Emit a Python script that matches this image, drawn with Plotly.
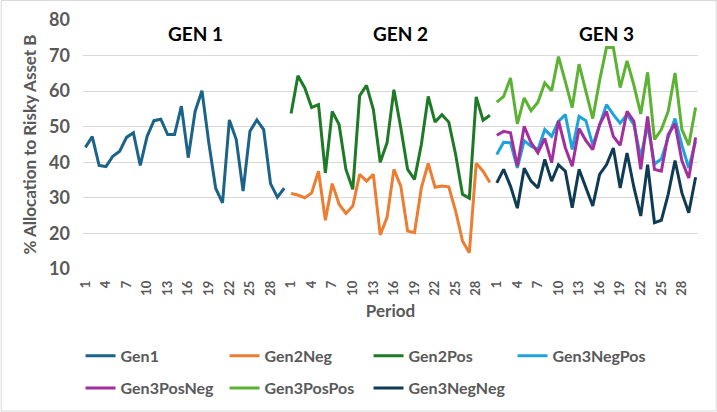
import plotly.graph_objects as go

periods = list(range(1, 31))
tick_periods = [1, 4, 7, 10, 13, 16, 19, 22, 25, 28]
generations = ["GEN 1", "GEN 2", "GEN 3"]

gen1 = [44.2, 47.2, 39.1, 38.8, 41.7, 43.1, 47.0, 48.3, 39.1, 47.3,
        51.7, 52.1, 47.8, 47.8, 55.8, 41.3, 54.3, 60.1, 45.5, 32.7,
        28.6, 51.9, 46.4, 31.9, 48.7, 51.9, 49.2, 34.0, 30.2, 32.7]

gen2neg = [31.2, 30.8, 30.0, 31.4, 37.5, 23.7, 34.0, 28.2, 25.6, 27.7,
           36.6, 34.7, 36.6, 19.6, 24.5, 38.0, 33.3, 20.7, 20.2, 32.8,
           39.7, 33.0, 33.3, 33.1, 26.3, 17.9, 14.6, 39.7, 37.5, 34.3]

gen2pos = [53.7, 64.3, 60.9, 55.4, 56.2, 37.0, 54.3, 50.6, 38.0, 32.4,
           58.7, 61.6, 54.8, 40.0, 45.5, 60.4, 49.7, 38.0, 35.2, 45.0,
           58.5, 51.3, 53.4, 51.3, 42.2, 31.0, 29.9, 58.4, 51.8, 53.2]

gen3negpos = [42.2, 45.6, 45.5, 38.4, 46.1, 44.5, 43.6, 49.2, 47.3, 51.5,
              53.4, 43.6, 52.9, 51.7, 44.8, 50.6, 56.2, 53.4, 51.0, 53.4,
              50.6, 41.3, 50.6, 39.5, 40.9, 47.0, 52.3, 44.8, 38.4, 45.9]

gen3posneg = [47.6, 48.7, 48.3, 38.9, 50.1, 45.5, 42.7, 46.7, 39.9, 51.7,
              44.1, 38.9, 49.5, 46.1, 43.6, 50.6, 54.3, 47.3, 44.8, 54.3,
              51.5, 38.0, 52.9, 38.0, 37.5, 47.8, 50.8, 40.4, 35.6, 47.0]

gen3pospos = [56.9, 58.5, 63.7, 50.8, 58.1, 54.5, 56.9, 62.3, 60.1, 69.7,
              62.7, 55.4, 67.6, 60.1, 52.3, 63.0, 72.3, 72.3, 61.0, 68.5,
              61.7, 53.6, 65.3, 46.4, 49.2, 54.3, 65.1, 49.2, 44.8, 55.4]

gen3negneg = [34.2, 38.0, 33.3, 27.1, 38.3, 34.7, 32.8, 40.8, 34.7, 39.3,
              37.5, 27.2, 38.0, 32.8, 27.7, 36.6, 39.3, 44.0, 32.8, 42.6,
              33.0, 24.9, 39.3, 23.0, 23.7, 31.0, 40.5, 31.4, 25.8, 35.8]

series = [
    ("Gen1", gen1, 0, "#1B6487", "legend"),
    ("Gen2Neg", gen2neg, 1, "#ED7D31", "legend"),
    ("Gen2Pos", gen2pos, 1, "#1F7A28", "legend"),
    ("Gen3NegPos", gen3negpos, 2, "#1CA3DE", "legend"),
    ("Gen3PosNeg", gen3posneg, 2, "#A32E9E", "legend2"),
    ("Gen3PosPos", gen3pospos, 2, "#5CB233", "legend2"),
    ("Gen3NegNeg", gen3negneg, 2, "#0F3C54", "legend2"),
]

n = len(periods)
fig = go.Figure()
for name, vals, g, color, leg in series:
    xs = [g * n + (p - 1) for p in periods]
    fig.add_trace(go.Scatter(x=xs, y=vals, mode="lines", name=name,
                             legend=leg, line=dict(color=color, width=3)))

tickvals = [g * n + (p - 1) for g in range(len(generations)) for p in tick_periods]
ticktext = [str(p) for g in range(len(generations)) for p in tick_periods]

gray = "#595959"
leg_common = dict(orientation="h", xanchor="left", yanchor="middle",
                  entrywidth=99, entrywidthmode="pixels",
                  font=dict(size=16, color=gray, weight="bold"),
                  traceorder="normal", itemwidth=30,
                  bgcolor="rgba(0,0,0,0)")

fig.update_layout(
    width=717, height=412,
    margin=dict(l=83, r=19, t=20, b=143, autoexpand=False),
    paper_bgcolor="white", plot_bgcolor="white",
    font=dict(family="Lato", color=gray),
    showlegend=True,
    legend=dict(x=-0.004, y=-0.349, **leg_common),
    legend2=dict(x=-0.004, y=-0.478, **leg_common),
    xaxis=dict(range=[-0.35, 89.35], tickmode="array", tickvals=tickvals,
               ticktext=ticktext, tickangle=-90, showgrid=False, zeroline=False,
               showline=False, ticks="", ticklabelstandoff=8,
               tickfont=dict(size=13, color=gray, weight="bold"),
               title=dict(text="Period", font=dict(size=17, color=gray, weight="bold"),
                          standoff=10)),
    yaxis=dict(range=[10, 80], dtick=10, showgrid=True, gridcolor="#D9D9D9",
               gridwidth=1, zeroline=False, showline=False, ticks="",
               ticklabelstandoff=12,
               tickfont=dict(size=18, color=gray, weight="bold"),
               title=dict(text="% Allocation to Risky Asset B",
                          font=dict(size=17, color=gray, weight="bold"), standoff=8)),
)

ann_x = [16, 46, 76]
for g, label in enumerate(generations):
    fig.add_annotation(x=ann_x[g], y=76.3, xref="x", yref="y", text=label,
                       showarrow=False,
                       font=dict(size=19, color="black", weight="bold"))

fig.add_shape(type="rect", xref="paper", yref="paper",
              x0=-0.133, x1=1.0297, y0=-0.5703, y1=1.0783,
              line=dict(color="#D9D9D9", width=1), fillcolor="rgba(0,0,0,0)",
              layer="below")

fig.write_html("out.html")
